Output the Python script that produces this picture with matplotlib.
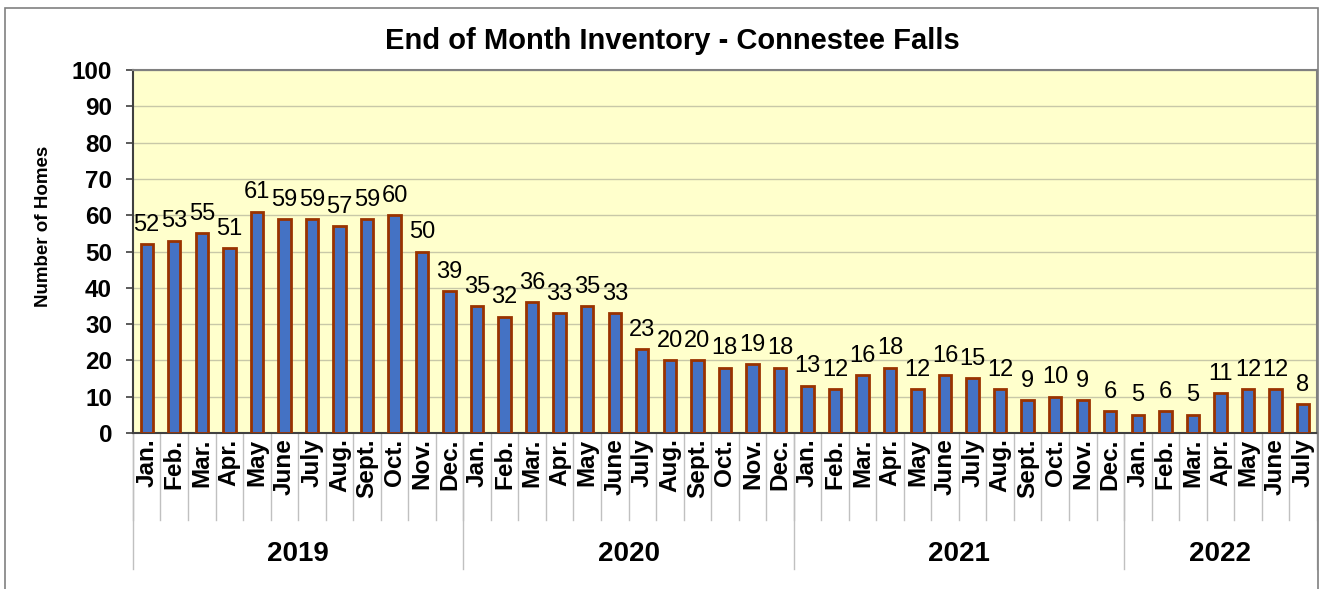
import matplotlib.pyplot as plt
import matplotlib.transforms as mtransforms
from matplotlib.patches import Rectangle

plt.rcParams['font.family'] = ['Liberation Sans', 'DejaVu Sans']

months_2019 = ['Jan.', 'Feb.', 'Mar.', 'Apr.', 'May', 'June', 'July', 'Aug.', 'Sept.', 'Oct.', 'Nov.', 'Dec.']
months_2020 = ['Jan.', 'Feb.', 'Mar.', 'Apr.', 'May', 'June', 'July', 'Aug.', 'Sept.', 'Oct.', 'Nov.', 'Dec.']
months_2021 = ['Jan.', 'Feb.', 'Mar.', 'Apr.', 'May', 'June', 'July', 'Aug.', 'Sept.', 'Oct.', 'Nov.', 'Dec.']
months_2022 = ['Jan.', 'Feb.', 'Mar.', 'Apr.', 'May', 'June', 'July']

homes_2019 = [52, 53, 55, 51, 61, 59, 59, 57, 59, 60, 50, 39]
homes_2020 = [35, 32, 36, 33, 35, 33, 23, 20, 20, 18, 19, 18]
homes_2021 = [13, 12, 16, 18, 12, 16, 15, 12, 9, 10, 9, 6]
homes_2022 = [5, 6, 5, 11, 12, 12, 8]

years = ['2019', '2020', '2021', '2022']
months = months_2019 + months_2020 + months_2021 + months_2022
homes = homes_2019 + homes_2020 + homes_2021 + homes_2022
year_sizes = [len(months_2019), len(months_2020), len(months_2021), len(months_2022)]

fig = plt.figure(figsize=(13.19, 5.89), dpi=100)
ax = fig.add_axes([0.1008, 0.265, 0.8975, 0.616])

# outer chart border
fig.patches.append(Rectangle((0.004, -0.05), 0.9955, 1.036, transform=fig.transFigure,
                             fill=False, edgecolor='#808080', linewidth=1.2))

x = list(range(len(homes)))
ax.set_facecolor('#FFFFCC')
bars = ax.bar(x, homes, width=0.45, color='#4472C4', edgecolor='#993300', linewidth=2, zorder=3)
for xi, v in zip(x, homes):
    ax.annotate(str(v), (xi, v), xytext=(0, 6), textcoords='offset points',
                ha='center', va='bottom', fontsize=17, zorder=4)

ax.set_xlim(-0.5, len(homes) - 0.5)
ax.set_ylim(0, 100)
ax.set_yticks(range(0, 101, 10))
ax.tick_params(axis='y', labelsize=17.5, length=5, color='#404040', width=1.2, pad=10)
for lbl in ax.get_yticklabels():
    lbl.set_fontweight('bold')
ax.yaxis.grid(True, color='#C8C8A8', linewidth=1, zorder=0)
ax.set_ylabel('Number of Homes', fontsize=13.5, fontweight='bold')
ax.yaxis.set_label_coords(-0.068, 0.57)

ax.set_xticks(x)
ax.set_xticklabels(months, rotation=90, fontsize=17.5, fontweight='bold')
ax.tick_params(axis='x', length=0, pad=4)

for s in ['top', 'right']:
    ax.spines[s].set_color('#808080')
    ax.spines[s].set_linewidth(1.5)
ax.spines['left'].set_color('#404040')
ax.spines['bottom'].set_color('#404040')
ax.spines['left'].set_linewidth(1.5)
ax.spines['bottom'].set_linewidth(1.5)

# category separators and year groups below the axis
trans = mtransforms.blended_transform_factory(ax.transData, ax.transAxes)
for i in range(len(homes) + 1):
    ax.plot([i - 0.5, i - 0.5], [0, -0.24], transform=trans, color='#C0C0C0',
            linewidth=1, clip_on=False)
start = 0
for yr, n in zip(years, year_sizes):
    ax.plot([start - 0.5, start - 0.5], [0, -0.376], transform=trans, color='#C0C0C0',
            linewidth=1, clip_on=False)
    ax.text(start + (n - 1) / 2, -0.335, yr, transform=trans, ha='center', va='center',
            fontsize=20, fontweight='bold')
    start += n
ax.plot([start - 0.5, start - 0.5], [0, -0.376], transform=trans, color='#C0C0C0',
        linewidth=1, clip_on=False)

fig.suptitle('End of Month Inventory - Connestee Falls', fontsize=21, fontweight='bold',
             x=0.5095, y=0.955)

fig.savefig('out.png', dpi=100)
